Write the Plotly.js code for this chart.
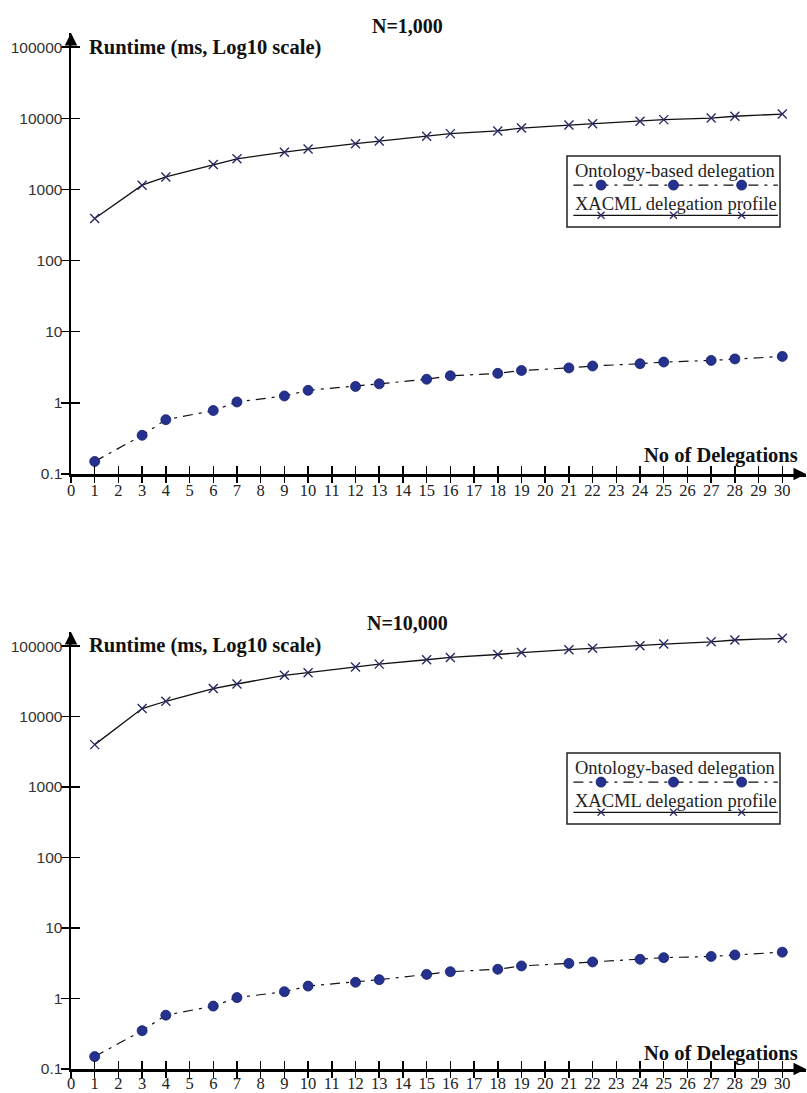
<!DOCTYPE html>
<html>
<head>
<meta charset="utf-8">
<script src="https://cdn.plot.ly/plotly-3.0.1.min.js"></script>
<style>
html,body{margin:0;padding:0;background:#fff;}
#chart{width:807px;height:1093px;}
</style>
</head>
<body>
<div id="chart"></div>
<script>
// ---------------- data ----------------
const delegations = [1,3,4,6,7,9,10,12,13,15,16,18,19,21,22,24,25,27,28,30];

const ontology1k = [0.15,0.35,0.58,0.78,1.03,1.25,1.5,1.7,1.85,2.15,2.4,2.6,2.85,3.1,3.3,3.55,3.75,3.95,4.15,4.5];
const xacml1k    = [390,1150,1500,2250,2700,3350,3700,4400,4800,5600,6100,6650,7300,8050,8400,9100,9600,10100,10700,11500];

const ontology10k = [0.15,0.35,0.58,0.78,1.03,1.25,1.5,1.7,1.85,2.2,2.4,2.6,2.9,3.15,3.3,3.6,3.8,3.95,4.15,4.55];
const xacml10k    = [4000,13000,16500,25000,29000,38500,42000,50500,55500,64000,69000,76000,81000,89000,93500,101000,107000,115000,122000,129000];

const chartTitles = ["N=1,000", "N=10,000"];
const seriesNames = ["Ontology-based delegation", "XACML delegation profile"];
const yTitle = "Runtime (ms, Log10 scale)";
const xTitle = "No of Delegations";

const xTickVals = [0,1,2,3,4,5,6,7,8,9,10,11,12,13,14,15,16,17,18,19,20,21,22,23,24,25,26,27,28,29,30];
const yTickVals = [0.1,1,10,100,1000,10000,100000];
const yTickText = ["0.1","1","10","100","1000","10000","100000"];

// ---------------- layout helpers ----------------
const W = 807, H = 1093;
const px = v => v / W;           // pixel -> paper x
const py = v => 1 - v / H;       // pixel -> paper y

const SERIF = "Liberation Serif";
const SANS = "Liberation Sans";
const ONT_COLOR = "#25318f";
const X_COLOR = "#2a2a66";

const panels = [
  {top: 33, bottom: 474, xStandoff: -6, ont: ontology1k, xac: xacml1k, title: chartTitles[0]},
  {top: 632, bottom: 1069, xStandoff: -8, ont: ontology10k, xac: xacml10k, title: chartTitles[1]}
];
const xDom = [px(71), px(806)];

const traces = [];
const layout = {
  width: W, height: H,
  margin: {l:0, r:0, t:0, b:0},
  paper_bgcolor: "#fff", plot_bgcolor: "rgba(0,0,0,0)",
  showlegend: false,
  annotations: [], shapes: []
};

panels.forEach((p, i) => {
  const xa = i === 0 ? "x" : "x2";
  const ya = i === 0 ? "y" : "y2";
  const xl = i === 0 ? "x3" : "x4";
  const yl = i === 0 ? "y3" : "y4";
  const xo = i === 0 ? "x5" : "x6";
  const yo = i === 0 ? "y5" : "y6";
  const yDom = [py(p.bottom), py(p.top)];
  const axKey = a => (a[0] === "x" ? "xaxis" : "yaxis") + a.slice(1);

  // main axes
  layout[axKey(xa)] = {
    domain: xDom, anchor: ya, range: [0, 31], fixedrange: true,
    showgrid: false, zeroline: false,
    showline: true, linecolor: "#000", linewidth: 2.5,
    ticks: "outside", ticklen: 6, tickwidth: 1.5, tickcolor: "#000",
    tickvals: xTickVals, ticktext: xTickVals.map(String),
    ticklabelstandoff: p.xStandoff,
    tickfont: {family: SERIF, size: 16.5, color: "#222"}
  };
  layout[axKey(ya)] = {
    domain: yDom, anchor: xa, type: "log", range: [-1, 5.2], fixedrange: true,
    showgrid: false, zeroline: false,
    showline: true, linecolor: "#000", linewidth: 2.5,
    ticks: "outside", ticklen: 8, tickwidth: 1.5, tickcolor: "#000",
    tickvals: yTickVals, ticktext: yTickText,
    ticklabelstandoff: -5,
    tickfont: {family: SANS, size: 15.5, color: "#333"}
  };
  // overlay axes for the inner half of the crossing ticks
  layout[axKey(xo)] = {
    overlaying: xa, anchor: yo, range: [0, 31], fixedrange: true,
    showgrid: false, zeroline: false, showline: false,
    ticks: "inside", ticklen: 8, tickwidth: 1.5, tickcolor: "#000",
    tickvals: xTickVals, showticklabels: false
  };
  layout[axKey(yo)] = {
    overlaying: ya, anchor: xo, type: "log", range: [-1, 5.2], fixedrange: true,
    showgrid: false, zeroline: false, showline: false,
    ticks: "inside", ticklen: 9, tickwidth: 1.5, tickcolor: "#000",
    tickvals: yTickVals, showticklabels: false
  };
  traces.push({x: [], y: [], xaxis: xo, yaxis: yo, type: "scatter", hoverinfo: "skip"});

  // data traces
  traces.push({
    name: seriesNames[1], x: delegations, y: p.xac, xaxis: xa, yaxis: ya,
    type: "scatter", mode: "lines+markers",
    line: {color: "#111", width: 1.3},
    marker: {symbol: "x-thin-open", size: 9, color: X_COLOR, line: {width: 1.4, color: X_COLOR}}
  });
  traces.push({
    name: seriesNames[0], x: delegations, y: p.ont, xaxis: xa, yaxis: ya,
    type: "scatter", mode: "lines+markers",
    line: {color: "#111", width: 1.2, dash: "10px,6px,3px,6px"},
    marker: {symbol: "circle", size: 10, color: ONT_COLOR, line: {width: 0.8, color: "#15206a"}}
  });

  // axis arrows
  layout.annotations.push({
    xref: "paper", yref: "paper", x: px(806.5), y: py(p.bottom),
    ax: -14, ay: 0, text: "", showarrow: true,
    arrowhead: 2, arrowsize: 1, arrowwidth: 2.5, arrowcolor: "#000"
  });
  layout.annotations.push({
    xref: "paper", yref: "paper", x: px(71), y: py(p.top),
    ax: 0, ay: 14, text: "", showarrow: true,
    arrowhead: 2, arrowsize: 1, arrowwidth: 2.5, arrowcolor: "#000"
  });

  // titles
  const off = i === 0 ? 0 : 597;
  layout.annotations.push({
    xref: "paper", yref: "paper", x: px(407), y: py(26 + off),
    xanchor: "center", yanchor: "middle", showarrow: false,
    text: p.title, font: {family: SERIF, size: 20, color: "#111", weight: "bold"}
  });
  layout.annotations.push({
    xref: "paper", yref: "paper", x: px(87), y: py(48 + off),
    xanchor: "left", yanchor: "middle", showarrow: false,
    text: yTitle, font: {family: SERIF, size: 20.5, color: "#111", weight: "bold"}
  });
  layout.annotations.push({
    xref: "paper", yref: "paper", x: px(800), y: py(456 + off),
    xanchor: "right", yanchor: "middle", showarrow: false,
    text: xTitle, font: {family: SERIF, size: 20.5, color: "#111", weight: "bold"}
  });

  // custom legend (text above a sample line) in its own hidden axes
  const lt = 156 + off, lb = 227 + off;
  layout[axKey(xl)] = {domain: [px(567), px(780)], range: [0, 1], visible: false, fixedrange: true, anchor: yl};
  layout[axKey(yl)] = {domain: [py(lb), py(lt)], range: [0, 1], visible: false, fixedrange: true, anchor: xl};
  layout.shapes.push({
    type: "rect", xref: "paper", yref: "paper",
    x0: px(567), x1: px(780), y0: py(lb), y1: py(lt),
    line: {color: "#222", width: 1.5}, fillcolor: "rgba(255,255,255,0)"
  });
  const sampleX = [0.03, 0.16, 0.50, 0.82, 0.99];
  traces.push({
    x: sampleX, y: sampleX.map(() => 0.59), xaxis: xl, yaxis: yl,
    type: "scatter", mode: "lines", hoverinfo: "skip",
    line: {color: "#111", width: 1.2, dash: "10px,6px,3px,6px"}
  });
  traces.push({
    x: sampleX.slice(1, 4), y: [0.59, 0.59, 0.59], xaxis: xl, yaxis: yl,
    type: "scatter", mode: "markers", hoverinfo: "skip",
    marker: {symbol: "circle", size: 10, color: ONT_COLOR, line: {width: 0.8, color: "#15206a"}}
  });
  traces.push({
    x: sampleX, y: sampleX.map(() => 0.165), xaxis: xl, yaxis: yl,
    type: "scatter", mode: "lines", hoverinfo: "skip",
    line: {color: "#111", width: 1.3}
  });
  traces.push({
    x: sampleX.slice(1, 4), y: [0.165, 0.165, 0.165], xaxis: xl, yaxis: yl,
    type: "scatter", mode: "markers", hoverinfo: "skip",
    marker: {symbol: "x-thin-open", size: 7, color: X_COLOR, line: {width: 1.2, color: X_COLOR}}
  });
  layout.annotations.push({
    xref: xl, yref: yl, x: 0.028, y: 0.79, xanchor: "left", yanchor: "middle",
    showarrow: false, text: seriesNames[0],
    font: {family: SERIF, size: 18.5, color: "#222"}
  });
  layout.annotations.push({
    xref: xl, yref: yl, x: 0.028, y: 0.32, xanchor: "left", yanchor: "middle",
    showarrow: false, text: seriesNames[1],
    font: {family: SERIF, size: 18.5, color: "#222"}
  });
});

Plotly.newPlot("chart", traces, layout, {staticPlot: true, displayModeBar: false});
</script>
</body>
</html>
